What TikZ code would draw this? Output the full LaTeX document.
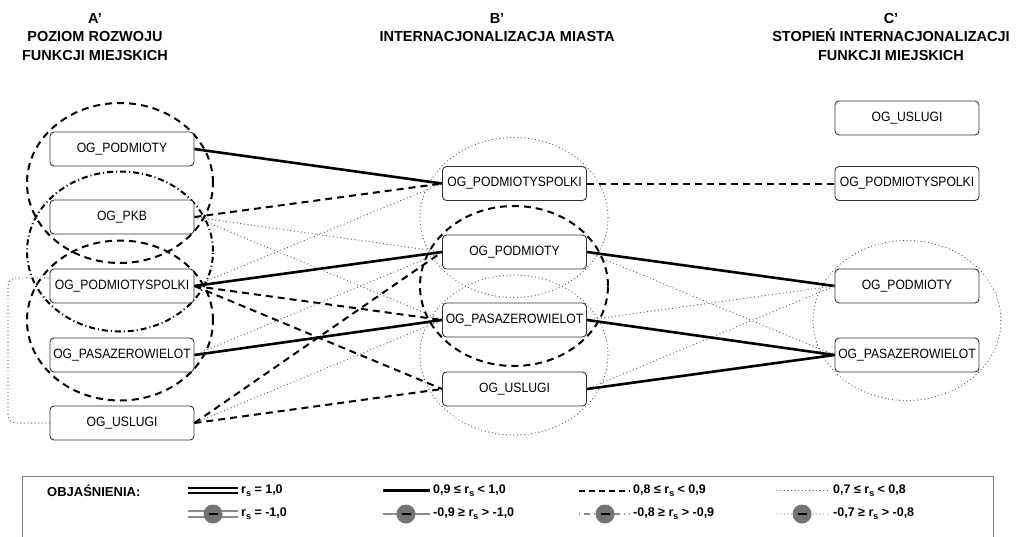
\documentclass[tikz,border=0pt]{standalone}
\usepackage{fontspec}
\setmainfont{Liberation Sans}
\newfontfamily\boxfont{Liberation Sans}[FakeStretch=0.9]
\newcommand\rsym{r\raisebox{-0.45ex}{\fontsize{9}{9}\selectfont s}}
\begin{document}
\begin{tikzpicture}[x=1pt,y=-1pt,
  box/.style={draw=black!80, line width=0.9pt, rounded corners=4pt, minimum width=144pt,
    minimum height=34pt, inner sep=0pt, fill=white, font=\boxfont\fontsize{13.5}{15}\selectfont},
  head/.style={align=center, font=\bfseries\fontsize{14.5}{18.5}\selectfont},
  strong/.style={line width=2.6pt},
  medium/.style={line width=2pt, dash pattern=on 7pt off 5pt},
  weak/.style={line width=1.2pt, line cap=round, dash pattern=on 0pt off 3.6pt, black!70},
  groupmid/.style={line width=2pt, dash pattern=on 7pt off 5pt},
  groupweak/.style={line width=1.2pt, line cap=round, dash pattern=on 0pt off 3.6pt, black!70},
  legtext/.style={anchor=west, inner sep=0pt, font=\bfseries\fontsize{12.5}{14}\selectfont},
  negdot/.style={circle, fill=black!55, minimum size=19pt, inner sep=0pt},
  neg/.style={black!45}
]
\useasboundingbox (0,0) rectangle (1018,536);

% column headings
\node[head] (hA) at (95,37) {A'\\POZIOM ROZWOJU\\FUNKCJI MIEJSKICH};
\node[head] (hB) at (497,27.5) {B'\\INTERNACJONALIZACJA MIASTA};
\node[head] (hC) at (891,37) {C'\\STOPIEŃ INTERNACJONALIZACJI\\FUNKCJI MIEJSKICH};

% groups of correlated variables
\draw[groupmid] (120,183) ellipse [x radius=93pt, y radius=80pt];
\draw[groupmid, dash pattern=on 6pt off 3pt on 1pt off 3pt] (120,251.5) ellipse [x radius=93pt, y radius=80pt];
\draw[groupmid] (120,320.5) ellipse [x radius=93pt, y radius=80pt];
\draw[groupweak] (514,217.5) ellipse [x radius=94pt, y radius=80pt];
\draw[groupmid] (514,286) ellipse [x radius=94pt, y radius=80pt];
\draw[groupweak] (514,355) ellipse [x radius=94pt, y radius=80pt];
\draw[groupweak] (907,320.5) ellipse [x radius=94pt, y radius=80pt];

% column A'
\node[box] (A1) at (122,149) {OG\_PODMIOTY};
\node[box] (A2) at (122,217) {OG\_PKB};
\node[box] (A3) at (122,286) {OG\_PODMIOTYSPOLKI};
\node[box] (A4) at (122,355) {OG\_PASAZEROWIELOT};
\node[box] (A5) at (122,423) {OG\_USLUGI};
% column B'
\node[box] (B1) at (514.5,183.5) {OG\_PODMIOTYSPOLKI};
\node[box] (B2) at (514.5,252) {OG\_PODMIOTY};
\node[box] (B3) at (514.5,320) {OG\_PASAZEROWIELOT};
\node[box] (B4) at (514.5,389) {OG\_USLUGI};
% column C'
\node[box] (C0) at (907,118) {OG\_USLUGI};
\node[box] (C1) at (907,183.5) {OG\_PODMIOTYSPOLKI};
\node[box] (C2) at (907,286) {OG\_PODMIOTY};
\node[box] (C3) at (907,355) {OG\_PASAZEROWIELOT};

% A' -> B'
\draw[strong] (A1.east) -- (B1.west);
\draw[medium] (A2.east) -- (B1.west);
\draw[weak]   (A2.east) -- (B2.west);
\draw[weak]   (A2.east) -- (B3.west);
\draw[weak]   (A3.east) -- (B1.west);
\draw[strong] (A3.east) -- (B2.west);
\draw[medium] (A3.east) -- (B3.west);
\draw[medium] (A3.east) -- (B4.west);
\draw[weak]   (A4.east) -- (B2.west);
\draw[strong] (A4.east) -- (B3.west);
\draw[medium] (A5.east) -- (B2.west);
\draw[weak]   (A5.east) -- (B3.west);
\draw[medium] (A5.east) -- (B4.west);
\coordinate (loopx) at (8,0);
\draw[weak, rounded corners=8pt] (A5.west) -| ([yshift=8pt]A3.west -| loopx) -- ([yshift=8pt]A3.west);

% B' -> C'
\draw[medium] (B1.east) -- (C1.west);
\draw[strong] (B2.east) -- (C2.west);
\draw[weak]   (B2.east) -- (C3.west);
\draw[weak]   (B3.east) -- (C2.west);
\draw[strong] (B3.east) -- (C3.west);
\draw[weak]   (B4.east) -- (C2.west);
\draw[strong] (B4.east) -- (C3.west);

% key
\draw[black!50, line width=0.8pt] (22,545) -- (22,476) -- (993,476) -- (993,545);
\node[legtext, font=\bfseries\fontsize{13}{14}\selectfont] (kt) at (47,490.5) {OBJAŚNIENIA:};

\coordinate (k1a) at (188,490.5); \coordinate (k1b) at (238,490.5);
\draw[line width=2.6pt] ([yshift=2.4pt]k1a) -- ([yshift=2.4pt]k1b);
\draw[line width=2.6pt] ([yshift=-2.4pt]k1a) -- ([yshift=-2.4pt]k1b);
\node[legtext] (k1) at (241,490.5) {\rsym\ = 1,0};

\coordinate (k2a) at (383,490.5); \coordinate (k2b) at (430,490.5);
\draw[strong, line width=2.4pt] (k2a) -- (k2b);
\node[legtext] (k2) at (433,490.5) {0,9 ≤ \rsym\ < 1,0};

\coordinate (k3a) at (579,490.5); \coordinate (k3b) at (630,490.5);
\draw[medium, dash pattern=on 6pt off 4pt] (k3a) -- (k3b);
\node[legtext] (k3) at (633,490.5) {0,8 ≤ \rsym\ < 0,9};

\coordinate (k4a) at (777,490.5); \coordinate (k4b) at (830,490.5);
\draw[weak] (k4a) -- (k4b);
\node[legtext] (k4) at (833,490.5) {0,7 ≤ \rsym\ < 0,8};

% negative correlations
\coordinate (n1a) at (188,514); \coordinate (n1b) at (238,514);
\draw[neg, line width=2.6pt] ([yshift=2.9pt]n1a) -- ([yshift=2.9pt]n1b);
\draw[neg, line width=2.6pt] ([yshift=-2.9pt]n1a) -- ([yshift=-2.9pt]n1b);
\node[negdot] (d1) at (213,514) {};
\draw[line width=2.4pt] ([xshift=-4.5pt]d1.center) -- ([xshift=4.5pt]d1.center);
\node[legtext] (n1) at (241,514) {\rsym\ = -1,0};

\coordinate (n2a) at (383,514); \coordinate (n2b) at (430,514);
\draw[neg, line width=2.4pt] (n2a) -- (n2b);
\node[negdot] (d2) at (406,514) {};
\draw[line width=2.4pt] ([xshift=-4.5pt]d2.center) -- ([xshift=4.5pt]d2.center);
\node[legtext] (n2) at (433,514) {-0,9 ≥ \rsym\ > -1,0};

\coordinate (n3a) at (579,514); \coordinate (n3b) at (630,514);
\draw[neg, line width=1.6pt, dash pattern=on 1pt off 4pt on 6pt off 4pt] (n3a) -- (n3b);
\node[negdot] (d3) at (605,514) {};
\draw[line width=2.4pt] ([xshift=-4.5pt]d3.center) -- ([xshift=4.5pt]d3.center);
\node[legtext] (n3) at (633,514) {-0,8 ≥ \rsym\ > -0,9};

\coordinate (n4a) at (777,514); \coordinate (n4b) at (830,514);
\draw[weak, black!45] (n4a) -- (n4b);
\node[negdot] (d4) at (802,514) {};
\draw[line width=2.4pt] ([xshift=-4.5pt]d4.center) -- ([xshift=4.5pt]d4.center);
\node[legtext] (n4) at (833,514) {-0,7 ≥ \rsym\ > -0,8};
\end{tikzpicture}
\end{document}
